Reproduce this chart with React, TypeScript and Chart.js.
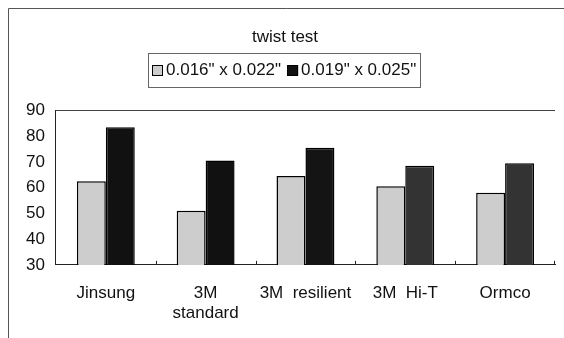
import React, { useEffect, useRef } from "react";
import { Chart, registerables } from "chart.js";

Chart.register(...registerables);

const categories: (string | string[])[] = ["Jinsung", ["3M", "standard"], "3M  resilient", "3M  Hi-T", "Ormco"];
const seriesLabels = ['0.016" x 0.022"', '0.019" x 0.025"'];
const thinWire = [62.5, 51, 64.5, 60.5, 58];
const thickWire = [83.5, 70.5, 75.5, 68.5, 69.5];
const yTicks = { min: 30, max: 90, step: 10 };

const FONT = "'Liberation Sans', Arial, sans-serif";
const LIGHT = "#cdcdcd";
const DARK = ["#111111", "#111111", "#141414", "#333333", "#333333"];

const decorPlugin = {
  id: "decor",
  afterDraw(chart: any) {
    const ctx = chart.ctx;
    const { left, right, top, bottom } = chart.chartArea;
    ctx.save();
    // outer frame
    ctx.strokeStyle = "#555";
    ctx.lineWidth = 1;
    ctx.beginPath();
    ctx.moveTo(8.5, chart.height);
    ctx.lineTo(8.5, 8.5);
    ctx.lineTo(chart.width, 8.5);
    ctx.stroke();
    // top plot border
    ctx.strokeStyle = "#444";
    ctx.beginPath();
    ctx.moveTo(left, Math.round(top) + 0.5);
    ctx.lineTo(right, Math.round(top) + 0.5);
    ctx.stroke();
    // small category ticks upward on x axis
    const xs = chart.scales.x;
    ctx.strokeStyle = "#222";
    for (let i = 0; i < categories.length - 1; i++) {
      const bx = Math.round((xs.getPixelForTick(i) + xs.getPixelForTick(i + 1)) / 2) + 0.5;
      ctx.beginPath();
      ctx.moveTo(bx, bottom);
      ctx.lineTo(bx, bottom - 4);
      ctx.stroke();
    }
    {
      const bx = Math.round(right) - 0.5;
      ctx.beginPath();
      ctx.moveTo(bx, bottom);
      ctx.lineTo(bx, bottom - 4);
      ctx.stroke();
    }
    // legend
    ctx.font = `17px ${FONT}`;
    ctx.textBaseline = "middle";
    const box = 11;
    const gap = 3;
    const itemGap = 6;
    const pad = 4;
    const widths = chart.data.datasets.map((d: any) => ctx.measureText(d.label).width);
    let total = pad * 2;
    widths.forEach((w: number, i: number) => {
      total += box + gap + w + (i > 0 ? itemGap : 0);
    });
    total = Math.round(total);
    const lx = Math.round(284 - total / 2);
    const ly = 53;
    const lh = 34;
    ctx.strokeStyle = "#666";
    ctx.strokeRect(lx + 0.5, ly + 0.5, total, lh);
    let x = lx + pad;
    const cy = ly + lh / 2 + 0.5;
    chart.data.datasets.forEach((d: any, i: number) => {
      if (i > 0) x += itemGap;
      ctx.fillStyle = i === 0 ? LIGHT : "#111";
      ctx.fillRect(x, cy - box / 2, box, box);
      ctx.strokeStyle = "#000";
      ctx.strokeRect(x + 0.5, cy - box / 2 + 0.5, box - 1, box - 1);
      x += box + gap;
      ctx.fillStyle = "#111";
      ctx.fillText(d.label, x, cy);
      x += widths[i];
    });
    ctx.restore();
  },
};

export default function App() {
  const ref = useRef<HTMLCanvasElement | null>(null);
  useEffect(() => {
    if (!ref.current) return;
    const chart = new Chart(ref.current, {
      type: "bar",
      data: {
        labels: categories,
        datasets: [
          {
            label: seriesLabels[0],
            data: thinWire,
            backgroundColor: LIGHT,
            borderColor: "#000",
            borderWidth: 1.5,
            borderSkipped: false,
          },
          {
            label: seriesLabels[1],
            data: thickWire,
            backgroundColor: DARK,
            borderColor: "#000",
            borderWidth: 1.5,
            borderSkipped: false,
          },
        ],
      },
      options: {
        animation: false,
        responsive: false,
        maintainAspectRatio: false,
        layout: { padding: { left: 15, right: 9, top: 0, bottom: -3 } },
        datasets: { bar: { categoryPercentage: 0.58, barPercentage: 1 } },
        plugins: {
          legend: { display: false },
          tooltip: { enabled: false },
          title: {
            display: true,
            text: "twist test",
            color: "#111",
            font: { family: FONT, size: 17, weight: "normal" },
            padding: { top: 27, bottom: 63 },
          },
        },
        scales: {
          x: {
            grid: { display: false, drawTicks: false },
            border: { display: true, color: "#222", width: 1 },
            ticks: { color: "#111", font: { family: FONT, size: 17, lineHeight: 1.18 }, padding: 18, maxRotation: 0 },
          },
          y: {
            min: yTicks.min,
            max: yTicks.max,
            grid: { display: false, drawTicks: false },
            border: { display: true, color: "#222", width: 1 },
            ticks: { stepSize: yTicks.step, color: "#111", font: { family: FONT, size: 17 }, padding: 11 },
          },
        },
      },
      plugins: [decorPlugin],
    });
    return () => chart.destroy();
  }, []);
  return (
    <div style={{ position: "absolute", left: 0, top: 0, width: 564, height: 338, background: "#fff" }}>
      <canvas ref={ref} width={564} height={338} style={{ width: 564, height: 338, display: "block" }} />
    </div>
  );
}
